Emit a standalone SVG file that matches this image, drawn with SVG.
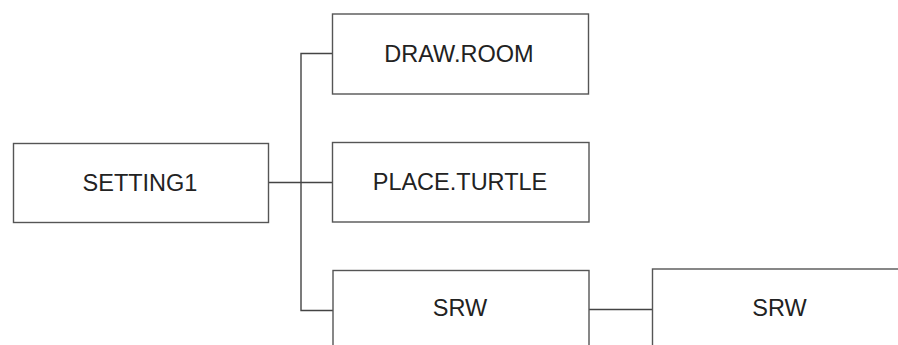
<svg xmlns="http://www.w3.org/2000/svg" width="898" height="345" viewBox="0 0 898 345">
<style>
.box{fill:#fff;stroke:#555;stroke-width:1.4}
.lbl{font-family:"Liberation Sans",Arial,sans-serif;font-size:23.5px;fill:#222;text-anchor:middle}
.con{fill:none;stroke:#444;stroke-width:1.4}
</style>
<rect width="898" height="345" fill="#fff"/>
<g id="connectors">
<path class="con" d="M332 53.5H301V310.5H333"/>
<path class="con" d="M269 182.5H332"/>
<path class="con" d="M589 309.5H652"/>
</g>
<g id="setting1"><rect class="box" x="13.5" y="143.5" width="255" height="79"/><text class="lbl" x="140" y="191">SETTING1</text></g>
<g id="draw-room"><rect class="box" x="332.5" y="14" width="256" height="80"/><text class="lbl" x="459" y="62">DRAW.ROOM</text></g>
<g id="place-turtle"><rect class="box" x="332.5" y="142.5" width="256.5" height="79.5"/><text class="lbl" x="460" y="190">PLACE.TURTLE</text></g>
<g id="srw1"><rect class="box" x="333" y="270.5" width="256" height="90"/><text class="lbl" x="460" y="316">SRW</text></g>
<g id="srw2"><rect class="box" x="652.5" y="269" width="260" height="90"/><text class="lbl" x="779.5" y="316">SRW</text></g>
</svg>
